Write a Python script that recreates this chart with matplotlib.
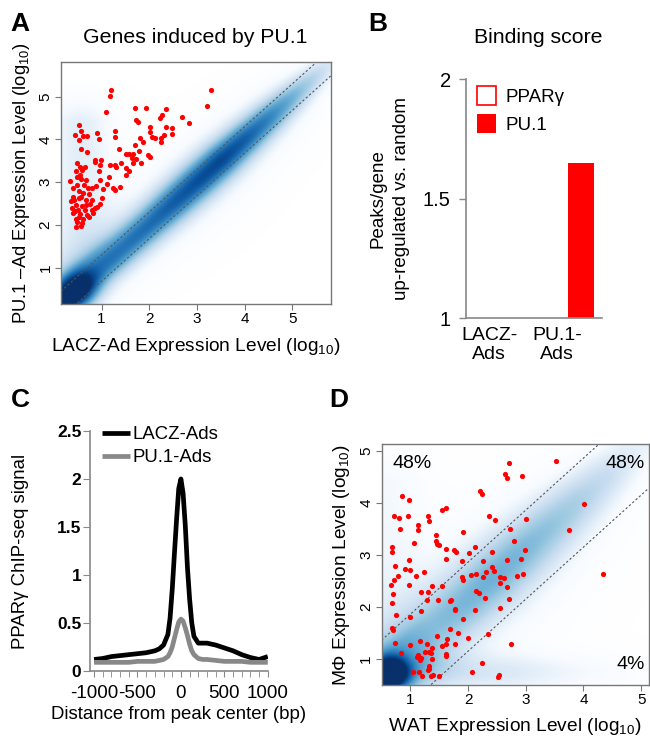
import numpy as np
import matplotlib.pyplot as plt
from matplotlib.colors import LinearSegmentedColormap

plt.rcParams['font.family'] = ['Liberation Sans', 'DejaVu Sans']
plt.rcParams['mathtext.fontset'] = 'custom'
plt.rcParams['mathtext.rm'] = 'Liberation Sans'
plt.rcParams['mathtext.it'] = 'Liberation Sans:italic'

# ---------- panel A: genes induced by PU.1 (red points) ----------
a_x = [3.29, 1.19, 1.17, 3.22, 1.10, 1.71, 1.94, 2.36, 2.27, 2.68, 2.84, 1.73, 1.76, 2.23,
       0.52, 0.57, 0.45, 0.62, 0.70, 0.91, 0.94, 1.29, 1.29, 2.01, 2.02, 2.06, 2.13, 2.24,
       2.31, 2.35, 2.48, 2.48, 2.25, 1.80, 1.86, 0.52, 0.57, 0.69, 1.37, 0.99, 0.86, 0.86,
       1.52, 1.58, 1.64, 1.66, 1.71, 1.78, 1.73, 2.01, 1.98, 1.65, 1.82, 1.41, 1.29, 1.30,
       1.17, 0.97, 0.95, 0.65, 0.48, 0.55, 0.47, 0.59, 0.55, 0.48, 0.34, 0.67, 0.49, 0.63,
       0.79, 0.88, 0.97, 1.15, 1.12, 1.24, 1.28, 1.38, 1.51, 1.52, 1.58, 1.04, 0.41, 0.52,
       0.62, 0.73, 0.41, 0.53, 0.67, 0.80, 1.01, 0.36, 0.46, 0.60, 0.76, 0.90, 0.96, 0.38,
       0.50, 0.66, 0.80, 0.86, 0.41, 0.55, 0.70, 0.83, 0.46, 0.62, 0.74, 0.49, 0.59, 0.46,
       0.56, 0.42, 0.57, 0.71, 0.57, 0.45, 0.68, 0.52]
a_y = [5.16, 5.16, 5.02, 4.79, 4.63, 4.74, 4.74, 4.71, 4.56, 4.52, 4.38, 4.45, 4.41, 4.49,
       4.34, 4.20, 4.11, 4.08, 4.09, 4.14, 4.01, 4.20, 4.06, 4.30, 4.18, 4.06, 4.04, 4.03,
       4.11, 4.30, 4.27, 4.12, 3.95, 4.03, 3.95, 3.99, 3.78, 3.71, 3.78, 3.52, 3.53, 3.47,
       3.67, 3.66, 3.57, 3.66, 3.87, 3.74, 3.54, 3.60, 3.64, 3.44, 3.46, 3.44, 3.39, 3.35,
       3.40, 3.39, 3.25, 3.36, 3.44, 3.36, 3.26, 3.28, 3.17, 3.13, 3.03, 3.05, 2.94, 2.93,
       2.87, 2.90, 3.04, 3.13, 2.95, 2.87, 2.82, 2.88, 3.16, 3.32, 3.27, 2.85, 2.86, 2.80,
       2.74, 2.72, 2.66, 2.62, 2.58, 2.58, 2.64, 2.55, 2.47, 2.44, 2.49, 2.43, 2.48, 2.39,
       2.36, 2.35, 2.35, 2.39, 2.27, 2.25, 2.23, 2.27, 2.15, 2.15, 2.18, 2.08, 2.05, 1.96,
       1.98, 2.58, 2.66, 2.86, 3.07, 2.32, 2.46, 2.19]

# density ridge along the diagonal, read from the shading (position, level, width)
a_ridge_pos = [0.3, 0.6, 1.0, 1.5, 2.0, 2.5, 3.0, 3.5, 4.0, 4.5, 5.0, 5.5, 5.8]
a_ridge_level = [0.76, 0.66, 0.61, 0.61, 0.63, 0.67, 0.71, 0.73, 0.67, 0.57, 0.43, 0.28, 0.18]
a_ridge_width = [0.55, 0.55, 0.55, 0.56, 0.58, 0.60, 0.60, 0.58, 0.55, 0.52, 0.48, 0.42, 0.40]
a_blob = (0.5, 0.48, 0.40, 0.40)  # x, y, radius, extra level

# ---------- panel B: binding score ----------
b_groups = ['LACZ-\nAds', 'PU.1-\nAds']
b_ppar = [0.9, 0.9]
b_pu1 = [0.9, 1.65]

# ---------- panel C: PPARg ChIP-seq profile ----------
c_dist = [-1000, -900, -800, -700, -600, -500, -400, -300, -250, -200, -150, -125, -100, -75,
          -50, -25, 0, 25, 50, 75, 100, 125, 150, 200, 250, 300, 400, 500, 600, 700, 800, 900, 1000]
c_lacz = [0.12, 0.13, 0.15, 0.16, 0.17, 0.18, 0.19, 0.21, 0.23, 0.27, 0.38, 0.55, 0.85, 1.22,
          1.58, 1.90, 2.00, 1.85, 1.52, 1.08, 0.75, 0.50, 0.36, 0.29, 0.29, 0.29, 0.27, 0.24,
          0.21, 0.17, 0.14, 0.12, 0.15]
c_pu1 = [0.09, 0.09, 0.09, 0.09, 0.09, 0.10, 0.10, 0.10, 0.11, 0.12, 0.15, 0.19, 0.25, 0.34,
         0.43, 0.51, 0.54, 0.52, 0.45, 0.37, 0.28, 0.21, 0.17, 0.13, 0.12, 0.12, 0.11, 0.10,
         0.10, 0.10, 0.09, 0.09, 0.09]

# ---------- panel D: WAT vs macrophage ----------
d_x = [3.52, 2.71, 2.64, 2.68, 2.94, 0.85, 0.98, 2.21, 2.24, 4.01, 1.61, 1.55, 1.30, 1.33,
       0.71, 0.96, 0.81, 2.37, 2.47, 3.01, 0.82, 1.14, 1.13, 1.91, 2.73, 3.75, 1.44, 1.45,
       2.80, 0.68, 1.07, 1.50, 1.46, 0.68, 1.61, 1.75, 1.79, 2.02, 2.12, 2.41, 2.99, 0.98,
       1.62, 1.89, 2.25, 2.67, 2.91, 2.96, 4.34, 0.74, 0.91, 1.00, 1.24, 0.78, 0.72, 1.09,
       0.98, 0.67, 1.38, 1.54, 1.90, 1.91, 2.05, 2.13, 2.31, 2.42, 2.45, 2.26, 2.55, 2.63,
       2.85, 2.55, 2.68, 0.70, 1.18, 1.30, 2.13, 2.19, 0.68, 1.28, 1.47, 1.69, 1.71, 2.29,
       2.71, 1.18, 1.77, 1.77, 2.12, 2.55, 0.75, 0.99, 1.92, 0.68, 0.70, 1.69, 1.46, 1.64,
       1.99, 2.34, 0.74, 1.00, 1.16, 1.29, 1.38, 1.54, 1.61, 1.77, 1.83, 2.74, 0.83, 1.13,
       1.12, 1.18, 1.17, 1.25, 1.33, 1.36, 1.37, 1.61, 1.62, 2.24, 1.33, 1.32, 1.30, 1.04,
       1.15, 1.20, 1.35, 1.40, 1.49, 2.06, 2.53, 2.52]
d_y = [4.81, 4.76, 4.55, 4.47, 4.52, 4.13, 4.06, 4.23, 4.17, 3.97, 3.90, 3.86, 3.75, 3.66,
       3.75, 3.75, 3.70, 3.74, 3.67, 3.69, 3.50, 3.57, 3.47, 3.43, 3.50, 3.47, 3.38, 3.26,
       3.26, 3.16, 3.23, 3.18, 3.21, 3.06, 3.11, 3.09, 3.05, 3.04, 3.15, 3.05, 3.09, 2.91,
       2.93, 2.88, 2.88, 2.90, 2.92, 2.64, 2.64, 2.79, 2.72, 2.70, 2.68, 2.60, 2.52, 2.59,
       2.43, 2.42, 2.41, 2.41, 2.57, 2.51, 2.61, 2.64, 2.68, 2.76, 2.69, 2.57, 2.57, 2.56,
       2.59, 2.46, 2.38, 2.24, 2.28, 2.28, 2.30, 2.27, 2.07, 2.14, 2.14, 2.12, 2.13, 2.17,
       2.16, 1.92, 1.94, 1.96, 1.94, 1.98, 1.85, 1.80, 1.77, 1.59, 1.55, 1.58, 1.44, 1.39,
       1.41, 1.47, 1.31, 1.26, 1.35, 1.29, 1.22, 1.24, 1.28, 1.28, 1.49, 1.28, 1.11, 1.08,
       1.04, 1.01, 0.98, 1.13, 1.14, 1.12, 0.99, 1.10, 1.06, 0.92, 0.87, 0.81, 0.78, 0.74,
       0.74, 0.68, 0.68, 0.70, 0.68, 0.75, 0.70, 0.66]

d_ridge_pos = [0.7, 1.0, 1.5, 2.0, 2.5, 3.0, 3.5, 4.0, 4.5, 5.0]
d_ridge_level = [0.46, 0.40, 0.37, 0.40, 0.42, 0.40, 0.36, 0.31, 0.24, 0.14]
d_ridge_width = [0.70, 0.78, 0.85, 0.88, 0.88, 0.84, 0.78, 0.70, 0.62, 0.55]
d_blob = (0.66, 0.70, 0.30, 0.70)
d_labels = ['48%', '48%', '4%']

blues = ['#FFFFFF', '#F7FBFF', '#DEEBF7', '#C6DBEF', '#9ECAE1', '#6BAED6',
         '#4292C6', '#2171B5', '#08519C', '#08306B']
cmap = LinearSegmentedColormap.from_list('smooth', blues)
box_col = '#777777'


def density(lim, rpos, rlev, rwid, blob, offset, skirt, left_haze, bottom_haze):
    g = np.linspace(lim[0], lim[1], 240)
    X, Y = np.meshgrid(g, g)
    s = (X + Y) / 2
    d = Y - X - offset
    lev = np.interp(s, rpos, rlev, left=rlev[0], right=rlev[-1])
    wid = np.interp(s, rpos, rwid)
    v = lev * np.exp(-(d / wid) ** 2)
    v += skirt * np.exp(-(d / (2.2 * wid)) ** 2) * (lev / max(rlev))
    bx, by, br, bl = blob
    v += bl * np.exp(-(((X - bx) ** 2 + (Y - by) ** 2) / br ** 2))
    v += left_haze * np.exp(-((X - 0.55) / 0.75) ** 2) * np.clip((Y - X) * 2, 0, 1) \
        * np.clip(5.4 - Y, 0, 1)
    v += bottom_haze * np.exp(-((Y - 0.72) / 0.4) ** 2) * np.clip((5.8 - X) / 3, 0, 1)
    return np.clip(v, 0, 1)


def scatter_panel(ax, lim, img, px, py, lines, ticks):
    ax.imshow(img, extent=(lim[0], lim[1], lim[0], lim[1]), origin='lower',
              cmap=cmap, vmin=0, vmax=1, aspect='auto', interpolation='bilinear')
    xx = np.array(lim)
    for off in lines:
        ax.plot(xx, xx + off, color='#555555', lw=0.8, ls=(0, (2, 2)))
    ax.scatter(px, py, s=14, color='#ff0000', linewidths=0, zorder=3)
    ax.set_xlim(lim)
    ax.set_ylim(lim)
    ax.set_xticks(ticks)
    ax.set_yticks(ticks)
    ax.tick_params(direction='out', length=4, width=0.8, color=box_col, labelsize=11, pad=2)
    for lab in ax.get_yticklabels():
        lab.set_rotation(90)
        lab.set_va('center')
    for sp in ax.spines.values():
        sp.set_color(box_col)
        sp.set_linewidth(1)


fig = plt.figure(figsize=(6.5, 7.41), dpi=100)

# panel A
axA = fig.add_axes([0.0938, 0.5897, 0.4154, 0.3266])
limA = (0.15, 5.81)
imgA = density(limA, a_ridge_pos, a_ridge_level, a_ridge_width, a_blob, 0.0, 0.2, 0.2, 0.0)
scatter_panel(axA, limA, imgA, a_x, a_y, [0.3, -0.32], [1, 2, 3, 4, 5])
axA.set_xlabel('LACZ-Ad Expression Level (log$_{10}$)', fontsize=13.8, labelpad=7)
axA.set_ylabel('PU.1 \u2013Ad Expression Level (log$_{10}$)', fontsize=13.2, labelpad=5)
fig.text(0.301, 0.950, 'Genes induced by PU.1', fontsize=15.3, ha='center', va='center')
fig.text(0.016, 0.984, 'A', fontsize=19, fontweight='bold', va='top')

# panel B
axB = fig.add_axes([0.717, 0.5704, 0.209, 0.3226])
xb = np.arange(len(b_groups))
bw = 0.38
axB.bar(xb - bw / 2, b_ppar, bw, facecolor='white', edgecolor='#ff0000', linewidth=1.2,
        label='PPAR\u03b3')
axB.bar(xb + bw / 2, b_pu1, bw, color='#ff0000', label='PU.1')
axB.set_xlim(-0.5, 1.5)
axB.set_ylim(1, 2)
axB.set_yticks([1, 1.5, 2])
axB.set_yticklabels(['1', '1.5', '2'])
axB.set_xticks(xb - 0.16)
axB.set_xticklabels(b_groups, ha='center', fontsize=14, linespacing=1.2)
axB.tick_params(axis='x', length=0, pad=6)
axB.tick_params(axis='y', length=5, width=1, color='#888888', labelsize=14.5, pad=6)
for side in ['top', 'right']:
    axB.spines[side].set_visible(False)
for side in ['left', 'bottom']:
    axB.spines[side].set_color('#888888')
    axB.spines[side].set_linewidth(1.2)
axB.set_ylabel('Peaks/gene\nup-regulated vs. random', fontsize=13.5, labelpad=9,
               linespacing=1.5)
axB.legend(loc='upper left', frameon=False, fontsize=13.5, handlelength=1.0, handleheight=1.2,
           handletextpad=0.5, borderaxespad=0.2, labelspacing=0.45, bbox_to_anchor=(0.0, 1.02))
fig.text(0.828, 0.949, 'Binding score', fontsize=15.3, ha='center', va='center')
fig.text(0.566, 0.984, 'B', fontsize=19, fontweight='bold', va='top')

# panel C
axC = fig.add_axes([0.138, 0.0945, 0.274, 0.3239])
axC.plot(c_dist, c_lacz, color='black', lw=3.4, label='LACZ-Ads', solid_capstyle='butt')
axC.plot(c_dist, c_pu1, color='#888888', lw=3.4, label='PU.1-Ads', solid_capstyle='butt')
axC.set_xlim(-1050, 1000)
axC.set_ylim(0, 2.5)
axC.set_yticks([0, 0.5, 1, 1.5, 2, 2.5])
axC.set_yticklabels(['0', '0.5', '1', '1.5', '2', '2.5'], fontweight='bold')
axC.set_xticks([-1000, -500, 0, 500, 1000])
axC.set_xticklabels(['-1000', '-500', '0', '500', '1000'])
axC.set_xticks(np.arange(-1000, 1001, 100), minor=True)
axC.tick_params(axis='x', which='major', length=4, color='#888888', labelsize=13.5, pad=6)
axC.tick_params(axis='x', which='minor', length=4, color='#888888')
axC.tick_params(axis='y', length=5, color='#888888', labelsize=12.5, pad=1)
for side in ['top', 'right']:
    axC.spines[side].set_visible(False)
for side in ['left', 'bottom']:
    axC.spines[side].set_color('#888888')
    axC.spines[side].set_linewidth(1.2)
axC.set_xlabel('Distance from peak center (bp)', fontsize=13.4, labelpad=3)
axC.set_ylabel('PPAR\u03b3 ChIP-seq signal', fontsize=13.4, labelpad=20)
axC.legend(loc='upper left', frameon=False, fontsize=13.4, handlelength=1.5,
           handletextpad=0.1, borderaxespad=0.0, labelspacing=0.3, bbox_to_anchor=(0.03, 1.05))
fig.text(0.016, 0.476, 'C', fontsize=19, fontweight='bold', va='top')

# panel D
axD = fig.add_axes([0.587, 0.0756, 0.411, 0.3252])
limD = (0.5, 5.13)
imgD = density(limD, d_ridge_pos, d_ridge_level, d_ridge_width, d_blob, 0.15, 0.14, 0.12, 0.2)
scatter_panel(axD, limD, imgD, d_x, d_y, [0.86, -0.85], [1, 2, 3, 4, 5])
axD.set_xlabel('WAT Expression Level (log$_{10}$)', fontsize=13.8, labelpad=6)
axD.set_ylabel('M\u03a6 Expression Level (log$_{10}$)', fontsize=13.8, labelpad=5)
axD.text(0.04, 0.955, d_labels[0], transform=axD.transAxes, fontsize=14, va='top')
axD.text(0.985, 0.955, d_labels[1], transform=axD.transAxes, fontsize=14, va='top', ha='right')
axD.text(0.985, 0.05, d_labels[2], transform=axD.transAxes, fontsize=14, va='bottom', ha='right')
fig.text(0.506, 0.476, 'D', fontsize=19, fontweight='bold', va='top')

fig.savefig('out.png', dpi=100)
